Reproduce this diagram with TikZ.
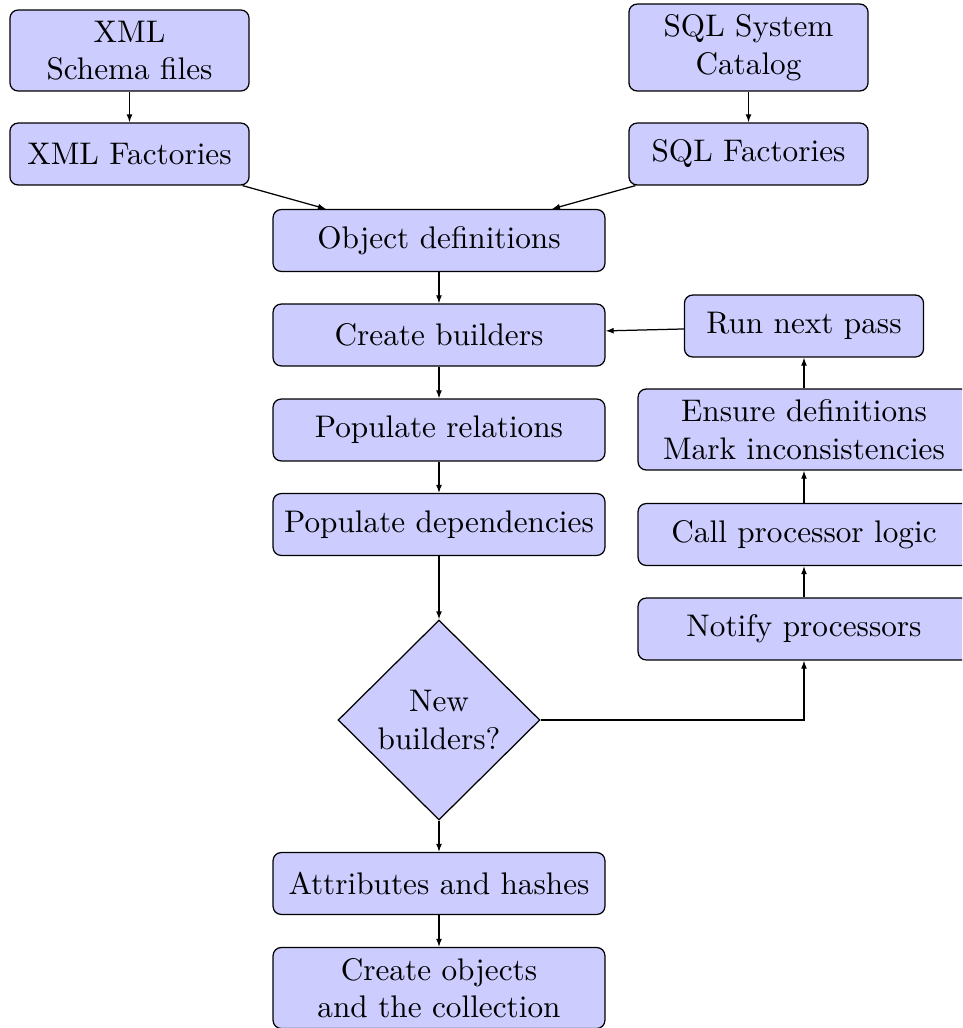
\documentclass[tikz,border=0pt]{standalone}
\usetikzlibrary{shapes.geometric,arrows.meta}
\begin{document}
\begin{tikzpicture}[x=0.32pt,y=-0.32pt,
  box/.style={draw, fill=blue!20, rounded corners=2.6pt, align=center, inner sep=2pt,
              minimum width=106.2pt, minimum height=19.8pt},
  smallbox/.style={box, minimum width=76.5pt},
  twoline/.style={minimum height=25.9pt},
  decision/.style={draw, fill=blue!20, diamond, aspect=1, align=center, inner sep=0pt,
                   minimum width=64.6pt, minimum height=64pt},
  flow/.style={-{Latex[length=2.6pt,width=1.9pt]}, line width=0.4pt}]
\path[use as bounding box, clip] (0,0) rectangle (962,1028);

\node[smallbox, twoline] (xmls) at (129.5,50.5) {XML\\Schema files};
\node[smallbox, minimum height=27.8pt] (sqls) at (748.5,47.5) {SQL System\\Catalog};
\node[smallbox] (xmlf) at (129.5,154) {XML Factories};
\node[smallbox] (sqlf) at (748.5,154) {SQL Factories};

\node[box] (obj) at (439,240.5) {Object definitions};
\node[box] (create) at (439,335) {Create builders};
\node[box] (poprel) at (439,430) {Populate relations};
\node[box] (popdep) at (439,524.5) {Populate dependencies};
\node[decision] (dia) at (439,720) {New\\builders?};
\node[box] (attr) at (439,883.5) {Attributes and hashes};
\node[box, twoline] (cobj) at (439,988) {Create objects\\and the collection};

\node[smallbox] (run) at (804,326) {Run next pass};
\node[box, twoline] (ensure) at (804,429.5) {Ensure definitions\\Mark inconsistencies};
\node[box] (call) at (804,534.5) {Call processor logic};
\node[box] (notify) at (804,629) {Notify processors};

\draw[flow] (xmls) -- (xmlf);
\draw[flow] (sqls) -- (sqlf);
\draw[flow] (xmlf) -- (obj);
\draw[flow] (sqlf) -- (obj);
\draw[flow] (obj) -- (create);
\draw[flow] (create) -- (poprel);
\draw[flow] (poprel) -- (popdep);
\draw[flow] (popdep) -- (dia);
\draw[flow] (dia) -- (attr);
\draw[flow] (attr) -- (cobj);
\draw[flow] (dia) -| (notify);
\draw[flow] (notify) -- (call);
\draw[flow] (call) -- (ensure);
\draw[flow] (ensure) -- (run);
\draw[flow] (run) -- (create);
\end{tikzpicture}
\end{document}
